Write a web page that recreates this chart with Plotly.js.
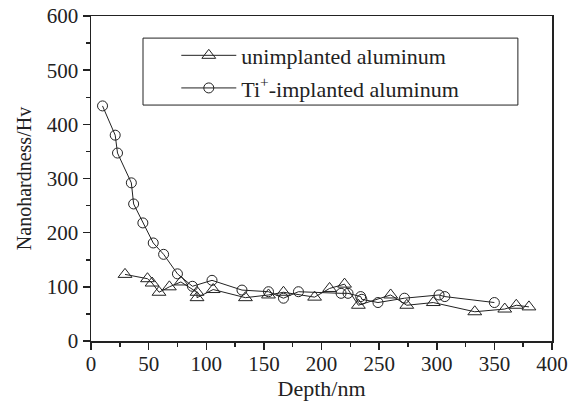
<!DOCTYPE html>
<html>
<head>
<meta charset="utf-8">
<script src="https://cdn.plot.ly/plotly-3.0.1.min.js"></script>
<style>html,body{margin:0;padding:0;background:#fff;}#chart{width:579px;height:409px;}</style>
</head>
<body>
<div id="chart"></div>
<script>
// Unimplanted aluminum (triangles)
const unDepth = [29.5, 49, 53, 59, 68, 78, 92, 92, 106, 134, 154, 167, 194, 207, 220, 232, 260, 274, 297, 333, 359, 369, 380];
const unHard  = [123, 115, 107, 90, 100, 109, 90, 80, 95, 80, 85, 90, 81, 97, 105, 66, 85, 66, 71, 54, 59, 66, 63];
// Ti+-implanted aluminum (circles)
const tiDepth = [10, 21, 23, 35, 37, 45, 54, 63, 75, 88, 105, 131, 154, 167, 180, 217, 223, 234, 235, 249, 272, 302, 307, 350];
const tiHard  = [434, 380, 347, 292, 253, 218, 181, 160, 124, 101, 112, 94, 91, 79, 91, 88, 88, 82, 77, 71, 79, 85, 82, 71];

const xTicks = [0, 50, 100, 150, 200, 250, 300, 350, 400];
const yTicks = [0, 100, 200, 300, 400, 500, 600];
const seriesNames = ['unimplanted aluminum', 'Ti<sup>+</sup>-implanted aluminum'];

const font = 'Liberation Serif, Times New Roman, serif';
const ink = '#222';

const traces = [
  {
    x: unDepth, y: unHard, type: 'scatter', mode: 'lines+markers', name: seriesNames[0], legendgroup: 'a',
    line: {color: ink, width: 1},
    marker: {symbol: 'triangle-up-open', size: 12, color: ink, line: {width: 1, color: ink}}
  },
  {
    x: tiDepth, y: tiHard, type: 'scatter', mode: 'lines+markers', name: seriesNames[1], legendgroup: 'b',
    line: {color: ink, width: 1},
    marker: {symbol: 'circle-open', size: 10, color: ink, line: {width: 1, color: ink}}
  }
];

const layout = {
  width: 579, height: 409,
  margin: {l: 91, r: 27, t: 16, b: 68},
  paper_bgcolor: '#fff', plot_bgcolor: '#fff',
  font: {family: font, size: 21, color: ink},
  showlegend: true,
  legend: {
    x: 0.185, y: 0.943, xanchor: 'left', yanchor: 'top',
    borderwidth: 0, bgcolor: 'rgba(0,0,0,0)',
    font: {family: font, size: 22, color: ink},
    itemwidth: 55, traceorder: 'grouped', tracegroupgap: 1
  },
  shapes: [{
    type: 'rect', xref: 'paper', yref: 'paper',
    x0: 0.1128, x1: 0.926, y0: 0.726, y1: 0.932,
    line: {color: ink, width: 1}, fillcolor: 'rgba(0,0,0,0)'
  }],
  xaxis: {
    range: [0, 400], tickvals: xTicks, ticktext: xTicks.map(String),
    ticks: 'outside', ticklen: 7, tickwidth: 1.5, tickcolor: ink,
    showline: true, linecolor: ink, linewidth: 1.5, mirror: true,
    showgrid: false, zeroline: false, ticklabelstandoff: -4,
    tickfont: {family: font, size: 21, color: ink},
    minor: {dtick: 25, tick0: 0, ticks: 'outside', ticklen: 4, tickwidth: 1.5, tickcolor: ink, showgrid: false},
    title: {text: 'Depth/nm', font: {family: font, size: 22, color: ink}, standoff: 2}
  },
  yaxis: {
    range: [0, 600], tickvals: yTicks, ticktext: yTicks.map(String),
    ticks: 'outside', ticklen: 7, tickwidth: 1.5, tickcolor: ink,
    showline: true, linecolor: ink, linewidth: 1.5, mirror: true,
    showgrid: false, zeroline: false,
    tickfont: {family: font, size: 21, color: ink},
    minor: {dtick: 50, tick0: 0, ticks: 'outside', ticklen: 4, tickwidth: 1.5, tickcolor: ink, showgrid: false},
    title: {text: 'Nanohardness/Hv', font: {family: font, size: 20, color: ink}, standoff: 10}
  }
};

Plotly.newPlot('chart', traces, layout, {displayModeBar: false, staticPlot: true});
</script>
</body>
</html>
